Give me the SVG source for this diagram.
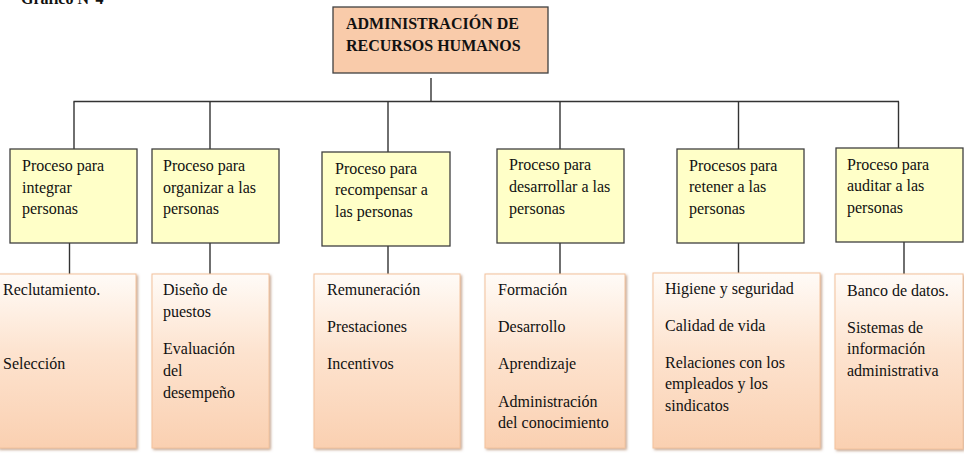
<svg xmlns="http://www.w3.org/2000/svg" width="964" height="459" viewBox="0 0 964 459">
<defs>
<linearGradient id="peach" x1="0" y1="0" x2="0" y2="1">
<stop offset="0" stop-color="#FFFBF7"/>
<stop offset="0.45" stop-color="#FDE3CF"/>
<stop offset="1" stop-color="#FAD0B1"/>
</linearGradient>
<filter id="sh" x="-5%" y="-5%" width="115%" height="115%">
<feDropShadow dx="1.5" dy="1.5" stdDeviation="0.8" flood-color="#A0714F" flood-opacity="0.6"/>
</filter>
</defs>
<style>
text{font-family:"Liberation Serif","Times New Roman",serif;font-size:16px;fill:#111}
.b{font-weight:bold}
.top{fill:#F9CBAA;stroke:#404040;stroke-width:1.3}
.proc{fill:#FFFFC8;stroke:#404040;stroke-width:1.3}
.act{fill:url(#peach);stroke:#F3C29C;stroke-width:1;filter:url(#sh)}
.con line{stroke:#333;stroke-width:1.4}
</style>
<text class="b" x="21" y="4">Gráfico N°4</text>
<g id="root">
<rect class="top" x="333" y="7" width="215" height="66"/>
<text class="b" x="346" y="29">ADMINISTRACIÓN DE</text>
<text class="b" x="346" y="51">RECURSOS HUMANOS</text>
</g>
<g class="con" id="connectors">
<line x1="431" y1="78" x2="431" y2="101.5"/>
<line x1="73.5" y1="101.5" x2="899" y2="101.5"/>
<line x1="74" y1="101.5" x2="74" y2="149"/>
<line x1="210" y1="101.5" x2="210" y2="149"/>
<line x1="388" y1="101.5" x2="388" y2="152"/>
<line x1="560" y1="101.5" x2="560" y2="149"/>
<line x1="738.5" y1="101.5" x2="738.5" y2="149"/>
<line x1="898.5" y1="101.5" x2="898.5" y2="148"/>
<line x1="69.5" y1="243" x2="69.5" y2="274"/>
<line x1="210" y1="243" x2="210" y2="274"/>
<line x1="388" y1="246" x2="388" y2="274"/>
<line x1="560" y1="243" x2="560" y2="274"/>
<line x1="738.5" y1="243" x2="738.5" y2="273"/>
<line x1="904" y1="242" x2="904" y2="274"/>
</g>
<g id="p1">
<rect class="proc" x="10" y="149" width="127" height="94"/>
<text x="22" y="171">Proceso para</text>
<text x="22" y="192.5">integrar</text>
<text x="22" y="214">personas</text>
</g>
<g id="p2">
<rect class="proc" x="152" y="149" width="127" height="94"/>
<text x="163" y="171">Proceso para</text>
<text x="163" y="192.5">organizar a las</text>
<text x="163" y="214">personas</text>
</g>
<g id="p3">
<rect class="proc" x="322" y="152" width="128" height="94"/>
<text x="335" y="173.5">Proceso para</text>
<text x="335" y="195">recompensar a</text>
<text x="335" y="217">las personas</text>
</g>
<g id="p4">
<rect class="proc" x="497" y="149" width="127" height="94"/>
<text x="509" y="170">Proceso para</text>
<text x="509" y="191.5">desarrollar a las</text>
<text x="509" y="213.5">personas</text>
</g>
<g id="p5">
<rect class="proc" x="677" y="149" width="127" height="94"/>
<text x="689" y="170.5">Procesos para</text>
<text x="689" y="192">retener a las</text>
<text x="689" y="214">personas</text>
</g>
<g id="p6">
<rect class="proc" x="836" y="148" width="127" height="94"/>
<text x="847" y="169.5">Proceso para</text>
<text x="847" y="191">auditar a las</text>
<text x="847" y="212.5">personas</text>
</g>
<g id="a1">
<rect class="act" x="-2" y="274" width="138" height="174"/>
<text x="3" y="295">Reclutamiento.</text>
<text x="3" y="369">Selección</text>
</g>
<g id="a2">
<rect class="act" x="152" y="274" width="117" height="174"/>
<text x="163" y="295">Diseño de</text>
<text x="163" y="317">puestos</text>
<text x="163" y="354">Evaluación</text>
<text x="163" y="376">del</text>
<text x="163" y="397.5">desempeño</text>
</g>
<g id="a3">
<rect class="act" x="314" y="274" width="146" height="174"/>
<text x="327" y="295">Remuneración</text>
<text x="327" y="332">Prestaciones</text>
<text x="327" y="369">Incentivos</text>
</g>
<g id="a4">
<rect class="act" x="485" y="274" width="140" height="174"/>
<text x="498" y="295">Formación</text>
<text x="498" y="332">Desarrollo</text>
<text x="498" y="369">Aprendizaje</text>
<text x="498" y="406.5">Administración</text>
<text x="498" y="427.5">del conocimiento</text>
</g>
<g id="a5">
<rect class="act" x="653" y="273" width="167" height="175"/>
<text x="665" y="293.5">Higiene y seguridad</text>
<text x="665" y="330.5">Calidad de vida</text>
<text x="665" y="367.5">Relaciones con los</text>
<text x="665" y="389">empleados y los</text>
<text x="665" y="411">sindicatos</text>
</g>
<g id="a6">
<rect class="act" x="835" y="274" width="128" height="175"/>
<text x="847" y="296">Banco de datos.</text>
<text x="847" y="332.5">Sistemas de</text>
<text x="847" y="354">información</text>
<text x="847" y="376">administrativa</text>
</g>
</svg>
